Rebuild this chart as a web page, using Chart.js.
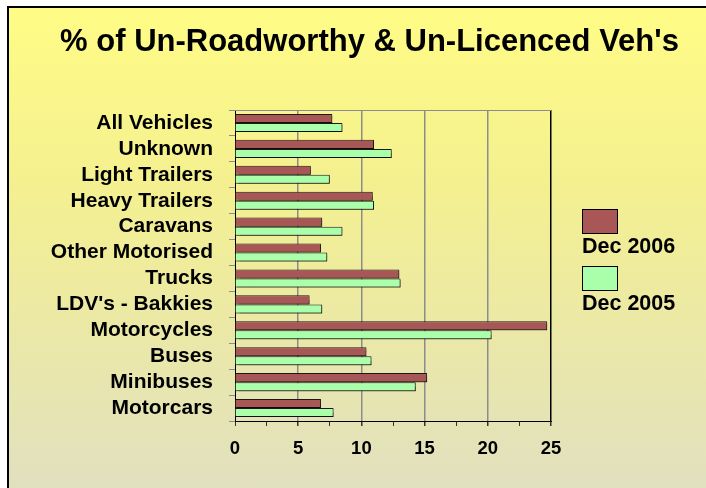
<!DOCTYPE html>
<html>
<head>
<meta charset="utf-8">
<script src="https://cdn.jsdelivr.net/npm/chart.js@4/dist/chart.umd.min.js"></script>
<style>
    body { margin: 0; width: 706px; height: 488px; overflow: hidden; background: #fff; position: relative; font-family: "Liberation Sans", Arial, sans-serif; }
    #frame { position: absolute; left: 7px; top: 6px; width: 720px; height: 500px; border-top: 2px solid #000; border-left: 2px solid #000;
             background: linear-gradient(to bottom, #fffc86 0%, #f4f090 35%, #e0dfc2 100%); }
    #chart { position: absolute; left: 0; top: 0; }
    #title { position: absolute; left: 0; top: 23px; width: 739px; text-align: center; font-weight: bold; font-size: 31px; line-height: 36px; color: #000; }
    #legend { position: absolute; left: 582px; top: 209px; }
    .item { margin-bottom: 8px; }
    .box { width: 34px; height: 23px; border: 1px solid #000; }
    .label { font-weight: bold; font-size: 21.5px; line-height: 24px; color: #000; white-space: nowrap; }
</style>
</head>
<body>
<div id="frame"></div>
<canvas id="chart" width="706" height="488"></canvas>
<div id="title">% of Un-Roadworthy &amp; Un-Licenced Veh's</div>
<div id="legend"></div>
<script>
// Chart data
const categories = ['All Vehicles', 'Unknown', 'Light Trailers', 'Heavy Trailers', 'Caravans', 'Other Motorised',
    'Trucks', "LDV's - Bakkies", 'Motorcycles', 'Buses', 'Minibuses', 'Motorcars'];
const dec2006 = [7.7, 11.0, 6.0, 10.9, 6.9, 6.8, 13.0, 5.9, 24.7, 10.4, 15.2, 6.8];
const dec2005 = [8.5, 12.4, 7.5, 11.0, 8.5, 7.3, 13.1, 6.9, 20.3, 10.8, 14.3, 7.8];
const seriesNames = ['Dec 2006', 'Dec 2005'];
const seriesColors = ['#a85656', '#aaffaa'];
const xMin = 0;
const xMax = 25;
const xLabelStep = 5;

// Build legend
const legend = document.getElementById('legend');
seriesNames.forEach((name, i) => {
    const item = document.createElement('div');
    item.className = 'item';
    item.innerHTML = `<div class="box" style="background:${seriesColors[i]}"></div><div class="label">${name}</div>`;
    legend.appendChild(item);
});

// Top edge of the plot wall
const wallPlugin = {
    id: 'wall',
    afterDraw(chart) {
        const { ctx, chartArea } = chart;
        ctx.save();
        ctx.strokeStyle = '#8c8c8c';
        ctx.lineWidth = 1;
        ctx.beginPath();
        ctx.moveTo(chartArea.left - 5, chartArea.top + 0.5);
        ctx.lineTo(chartArea.right, chartArea.top + 0.5);
        ctx.stroke();
        ctx.restore();
    }
};

// Small drop shadow under the bars
const shadowPlugin = {
    id: 'barShadow',
    beforeDatasetsDraw(chart) {
        const c = chart.ctx;
        c.save();
        c.shadowColor = 'rgba(0,0,0,0.4)';
        c.shadowOffsetX = 1.5;
        c.shadowOffsetY = 1.5;
        c.shadowBlur = 1;
    },
    afterDatasetsDraw(chart) {
        chart.ctx.restore();
    }
};

const ctx = document.getElementById('chart').getContext('2d');
new Chart(ctx, {
    type: 'bar',
    data: {
        labels: categories,
        datasets: [
            { label: seriesNames[0], data: dec2006, backgroundColor: seriesColors[0], borderColor: '#1a1a1a', borderWidth: 1 },
            { label: seriesNames[1], data: dec2005, backgroundColor: seriesColors[1], borderColor: '#1a1a1a', borderWidth: 1 }
        ]
    },
    options: {
        indexAxis: 'y',
        responsive: false,
        animation: false,
        devicePixelRatio: 1,
        layout: { padding: { top: 110, right: 155, left: 0, bottom: 0 } },
        datasets: { bar: { categoryPercentage: 0.7, barPercentage: 1.0 } },
        plugins: {
            legend: { display: false },
            title: { display: false },
            tooltip: { enabled: false }
        },
        scales: {
            x: {
                min: xMin,
                max: xMax,
                afterFit(scale) { scale.height = 67; },
                border: { color: '#000', width: 1 },
                grid: {
                    color: c => {
                        const v = c.tick ? c.tick.value : 0;
                        if (v === xMax) return '#000';
                        return v % xLabelStep === 0 && v > xMin ? '#8c8c8c' : 'rgba(0,0,0,0)';
                    },
                    lineWidth: c => (c.tick && c.tick.value % xLabelStep === 0 && c.tick.value > xMin) ? 1.5 : 1,
                    tickColor: '#333',
                    tickLength: 5
                },
                ticks: {
                    stepSize: xLabelStep / 2,
                    autoSkip: false,
                    maxRotation: 0,
                    padding: 12,
                    color: '#000',
                    font: { family: '"Liberation Sans", Arial, sans-serif', size: 18.5, weight: 'bold' },
                    callback: v => (v % xLabelStep === 0 ? v : '')
                }
            },
            y: {
                afterFit(scale) { scale.width = 235; },
                border: { color: '#000', width: 1 },
                grid: { offset: true, drawOnChartArea: false, color: '#8c8c8c', tickLength: 6 },
                ticks: {
                    autoSkip: false,
                    padding: 16,
                    color: '#000',
                    font: { family: '"Liberation Sans", Arial, sans-serif', size: 21, weight: 'bold' }
                }
            }
        }
    },
    plugins: [wallPlugin, shadowPlugin]
});
</script>
</body>
</html>
